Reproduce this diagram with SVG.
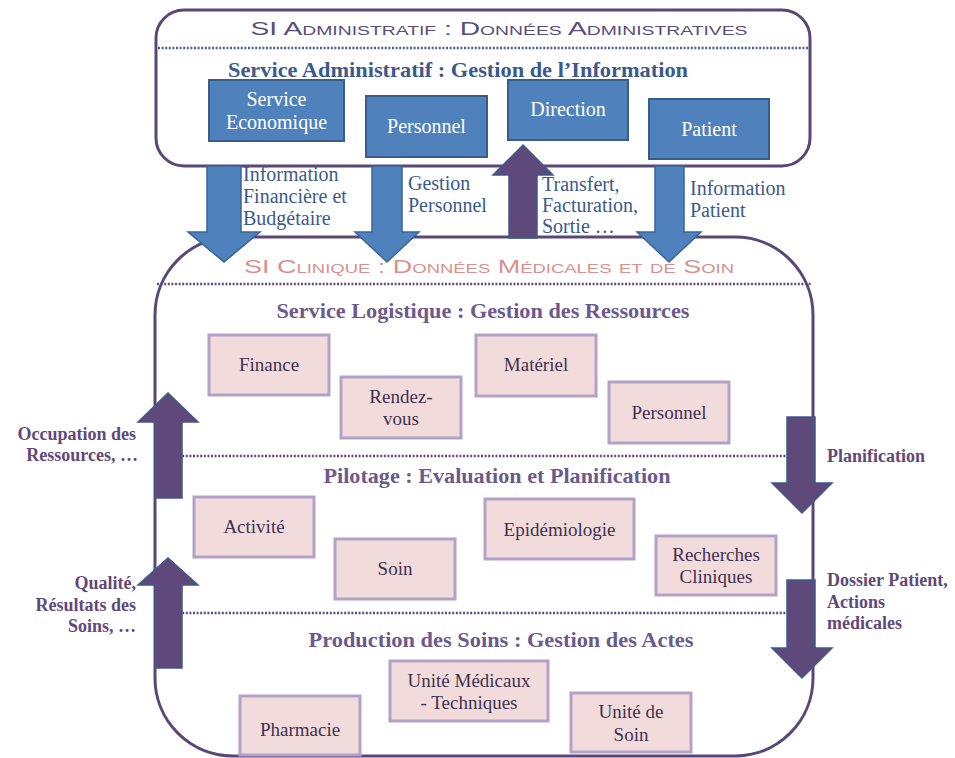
<svg xmlns="http://www.w3.org/2000/svg" width="955" height="758" viewBox="0 0 955 758">
<defs>
<style>
.frame{fill:#ffffff;stroke:#5a4677;stroke-width:3}
.dotA{stroke:#4a5d8e;stroke-width:2.5;stroke-dasharray:2 1.6}
.dotB{stroke:#604a7b;stroke-width:2.5;stroke-dasharray:2 1.6}
.hdr{font-family:"Liberation Sans",Arial,sans-serif;font-size:19px;font-variant:small-caps;text-anchor:middle}
.ttlA{font-family:"Liberation Serif","Times New Roman",serif;font-size:21px;font-weight:bold;fill:#3b5a8c;text-anchor:middle}
.ttlB{font-family:"Liberation Serif","Times New Roman",serif;font-size:21px;font-weight:bold;fill:#6b5a8e;text-anchor:middle}
.bbox{fill:#4f81bd;stroke:#385d8a;stroke-width:2}
.btxt{font-family:"Liberation Serif","Times New Roman",serif;font-size:20px;fill:#ffffff;text-anchor:middle}
.pbox{fill:#f2dcdb;stroke:#b3a2c7;stroke-width:3}
.ptxt{font-family:"Liberation Serif","Times New Roman",serif;font-size:19px;fill:#3f3151;text-anchor:middle}
.blbl{font-family:"Liberation Serif","Times New Roman",serif;font-size:20px;fill:#3b5a8c}
.slbl{font-family:"Liberation Serif","Times New Roman",serif;font-size:18px;font-weight:bold;fill:#5f497a}
.barrow{fill:#4f81bd;stroke:#3a6598;stroke-width:1.5}
.parrow{fill:#5f497a;stroke:#3d5a89;stroke-width:1.5}
</style>
</defs>

<g id="clinique">
<rect class="frame" x="155" y="237" width="658" height="519" rx="78" ry="78"/>
<text class="hdr" x="489" y="273" fill="#d9908e" textLength="490" lengthAdjust="spacingAndGlyphs">SI Clinique : Données Médicales et de Soin</text>
<line class="dotB" x1="157" y1="284" x2="811" y2="284"/>
<line class="dotB" x1="157" y1="456" x2="811" y2="456"/>
<line class="dotB" x1="157" y1="613" x2="811" y2="613"/>
<text class="ttlB" x="483" y="318" textLength="413" lengthAdjust="spacingAndGlyphs">Service Logistique : Gestion des Ressources</text>
<text class="ttlB" x="497" y="483" textLength="347" lengthAdjust="spacingAndGlyphs">Pilotage : Evaluation et Planification</text>
<text class="ttlB" x="501" y="647" textLength="385" lengthAdjust="spacingAndGlyphs">Production des Soins : Gestion des Actes</text>
</g>

<g id="administratif">
<rect class="frame" x="156" y="10" width="654" height="156" rx="28" ry="28"/>
<text class="hdr" x="499" y="35" fill="#5a4d7a" textLength="497" lengthAdjust="spacingAndGlyphs">SI Administratif : Données Administratives</text>
<line class="dotA" x1="158" y1="48" x2="808" y2="48"/>
<text class="ttlA" x="458" y="77" textLength="460" lengthAdjust="spacingAndGlyphs">Service Administratif : Gestion de l’Information</text>
</g>

<g id="service-economique"><rect class="bbox" x="209" y="80" width="135" height="61"/><text class="btxt" x="276.5" y="106">Service</text><text class="btxt" x="276.5" y="129">Economique</text></g>
<g id="personnel-admin"><rect class="bbox" x="366" y="96" width="121" height="61"/><text class="btxt" x="426.5" y="133">Personnel</text></g>
<g id="direction"><rect class="bbox" x="508" y="80" width="120" height="60"/><text class="btxt" x="568" y="116">Direction</text></g>
<g id="patient"><rect class="bbox" x="649" y="99" width="120" height="60"/><text class="btxt" x="709" y="136">Patient</text></g>

<g id="finance"><rect class="pbox" x="209" y="335" width="120" height="60"/><text class="ptxt" x="269" y="371">Finance</text></g>
<g id="rendez-vous"><rect class="pbox" x="341" y="377" width="120" height="61"/><text class="ptxt" x="401" y="403">Rendez-</text><text class="ptxt" x="401" y="425">vous</text></g>
<g id="materiel"><rect class="pbox" x="476" y="335" width="120" height="61"/><text class="ptxt" x="536" y="371">Matériel</text></g>
<g id="personnel-log"><rect class="pbox" x="609" y="382" width="120" height="61"/><text class="ptxt" x="669" y="419">Personnel</text></g>

<g id="activite"><rect class="pbox" x="194" y="497" width="120" height="60"/><text class="ptxt" x="254" y="533">Activité</text></g>
<g id="soin"><rect class="pbox" x="335" y="539" width="120" height="60"/><text class="ptxt" x="395" y="575">Soin</text></g>
<g id="epidemiologie"><rect class="pbox" x="485" y="499" width="149" height="60"/><text class="ptxt" x="559.5" y="536">Epidémiologie</text></g>
<g id="recherches"><rect class="pbox" x="656" y="536" width="120" height="59"/><text class="ptxt" x="716" y="561">Recherches</text><text class="ptxt" x="716" y="583">Cliniques</text></g>

<g id="pharmacie"><rect class="pbox" x="240" y="696" width="120" height="59"/><text class="ptxt" x="300" y="736">Pharmacie</text></g>
<g id="unite-medicaux"><rect class="pbox" x="390" y="661" width="158" height="60"/><text class="ptxt" x="469" y="687">Unité Médicaux</text><text class="ptxt" x="469" y="709">- Techniques</text></g>
<g id="unite-soin"><rect class="pbox" x="571" y="693" width="120" height="59"/><text class="ptxt" x="631" y="718">Unité de</text><text class="ptxt" x="631" y="741">Soin</text></g>

<g id="connectors">
<polygon class="barrow" points="207,166 241,166 241,232 260,232 224,262 188,232 207,232"/>
<polygon class="barrow" points="372,166 402,166 402,232 419,232 387,262 355,232 372,232"/>
<polygon class="parrow" points="509,238 537,238 537,175 553,175 523,145 493,175 509,175"/>
<polygon class="barrow" points="655,166 684,166 684,232 701,232 669,262 637,232 655,232"/>
<polygon class="parrow" points="155,498 182,498 182,422 198,422 168,393 138,422 155,422"/>
<polygon class="parrow" points="155,668 182,668 182,585 198,585 168,558 138,585 155,585"/>
<polygon class="parrow" points="787,417 815,417 815,483 832,483 802,513 772,483 787,483"/>
<polygon class="parrow" points="787,580 815,580 815,648 832,648 802,678 772,648 787,648"/>
</g>

<g id="labels">
<text class="blbl" x="243" y="181">Information</text>
<text class="blbl" x="243" y="203">Financière et</text>
<text class="blbl" x="243" y="225">Budgétaire</text>
<text class="blbl" x="408" y="190">Gestion</text>
<text class="blbl" x="408" y="212">Personnel</text>
<text class="blbl" x="542" y="191">Transfert,</text>
<text class="blbl" x="542" y="212">Facturation,</text>
<text class="blbl" x="542" y="233">Sortie …</text>
<text class="blbl" x="690" y="195">Information</text>
<text class="blbl" x="690" y="217">Patient</text>
<text class="slbl" x="136" y="440" text-anchor="end">Occupation des</text>
<text class="slbl" x="138" y="461" text-anchor="end">Ressources, …</text>
<text class="slbl" x="136" y="589" text-anchor="end">Qualité,</text>
<text class="slbl" x="136" y="611" text-anchor="end">Résultats des</text>
<text class="slbl" x="136" y="632" text-anchor="end">Soins, …</text>
<text class="slbl" x="827" y="462">Planification</text>
<text class="slbl" x="827" y="586">Dossier Patient,</text>
<text class="slbl" x="827" y="608">Actions</text>
<text class="slbl" x="827" y="629">médicales</text>
</g>
</svg>
